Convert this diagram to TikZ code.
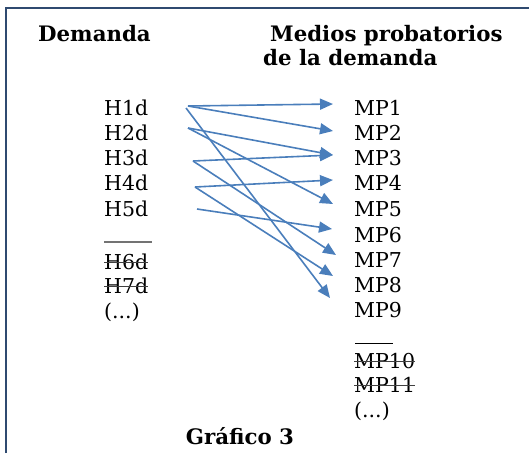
\documentclass[tikz,border=0pt]{standalone}
\usepackage{fontspec}
\setmainfont{DejaVu Serif}
\usetikzlibrary{arrows.meta}
\definecolor{frameblue}{RGB}{47,74,112}
\definecolor{arrowblue}{RGB}{74,126,187}
\tikzset{
  lbl/.style={anchor=base west, inner sep=0pt, font=\fontsize{20.5}{24}\selectfont},
  head/.style={anchor=base west, inner sep=0pt, font=\fontsize{21.3}{25}\selectfont\bfseries},
  conn/.style={draw=arrowblue, line width=1.6pt, -{Triangle[length=13pt,width=11pt]}},
  strike/.style={draw=black!75, line width=1pt},
  rule/.style={draw=black!55, line width=1.5pt},
}
\begin{document}
\begin{tikzpicture}[x=1pt,y=-1pt]
\useasboundingbox (0,0) rectangle (529,453);
\draw[frameblue, line width=2.2pt] (6,453) -- (6,8) -- (529,8);
% headings
\node[head] (hd) at (38,41) {Demanda};
\node[head] (hm1) at (270,41) {Medios probatorios};
\node[head] (hm2) at (263,65) {de la demanda};
% left column
\foreach \i/\y in {1/108,2/133,3/158,4/183,5/209}{
  \node[lbl] (h\i) at (104,\y+7) {H\i d};
}
\node[lbl] (h6) at (104,262+7) {H6d};
\node[lbl] (h7) at (104,286+7) {H7d};
\node[lbl] (hdots) at (104,311+7) {(...)};
\draw[rule] (104,242) -- (152,242);
\draw[strike] ([yshift=7pt]h6.base west) -- ([yshift=7pt]h6.base east);
\draw[strike] ([yshift=7pt]h7.base west) -- ([yshift=7pt]h7.base east);
% right column
\foreach \i/\y in {1/108,2/133,3/158,4/183,5/209,6/235,7/260,8/285,9/310}{
  \node[lbl] (mp\i) at (354,\y+7) {MP\i};
}
\node[lbl] (mp10) at (354,361+7) {MP10};
\node[lbl] (mp11) at (354,385+7) {MP11};
\node[lbl] (mpdots) at (354,410+7) {(...)};
\draw[strike, draw=black, line width=1pt] (355,343) -- (393,343);
\draw[strike] ([yshift=7pt]mp10.base west) -- ([yshift=7pt]mp10.base east);
\draw[strike] ([yshift=7pt]mp11.base west) -- ([yshift=7pt]mp11.base east);
% caption
\node[head, anchor=base] (cap) at (240,444) {Gráfico 3};
% connector end points
\coordinate (s1) at (188,106);
\coordinate (s1b) at (186,108);
\coordinate (s2) at (188,128);
\coordinate (s3) at (193,161);
\coordinate (s4) at (195,187);
\coordinate (s5) at (197,209);
\coordinate (t1) at (333,104);
\coordinate (t2) at (333,131);
\coordinate (t3) at (333,155);
\coordinate (t4) at (333,180);
\coordinate (t5) at (333,204);
\coordinate (t6) at (332,229);
\coordinate (t7) at (336,255);
\coordinate (t8) at (333,276);
\coordinate (t9) at (330,298);
\draw[conn] (s1) -- (t1);
\draw[conn] (s1) -- (t2);
\draw[conn] (s1b) -- (t9);
\draw[conn] (s2) -- (t3);
\draw[conn] (s2) -- (t5);
\draw[conn] (s3) -- (t3);
\draw[conn] (s3) -- (t7);
\draw[conn] (s4) -- (t4);
\draw[conn] (s4) -- (t8);
\draw[conn] (s5) -- (t6);
\end{tikzpicture}
\end{document}
